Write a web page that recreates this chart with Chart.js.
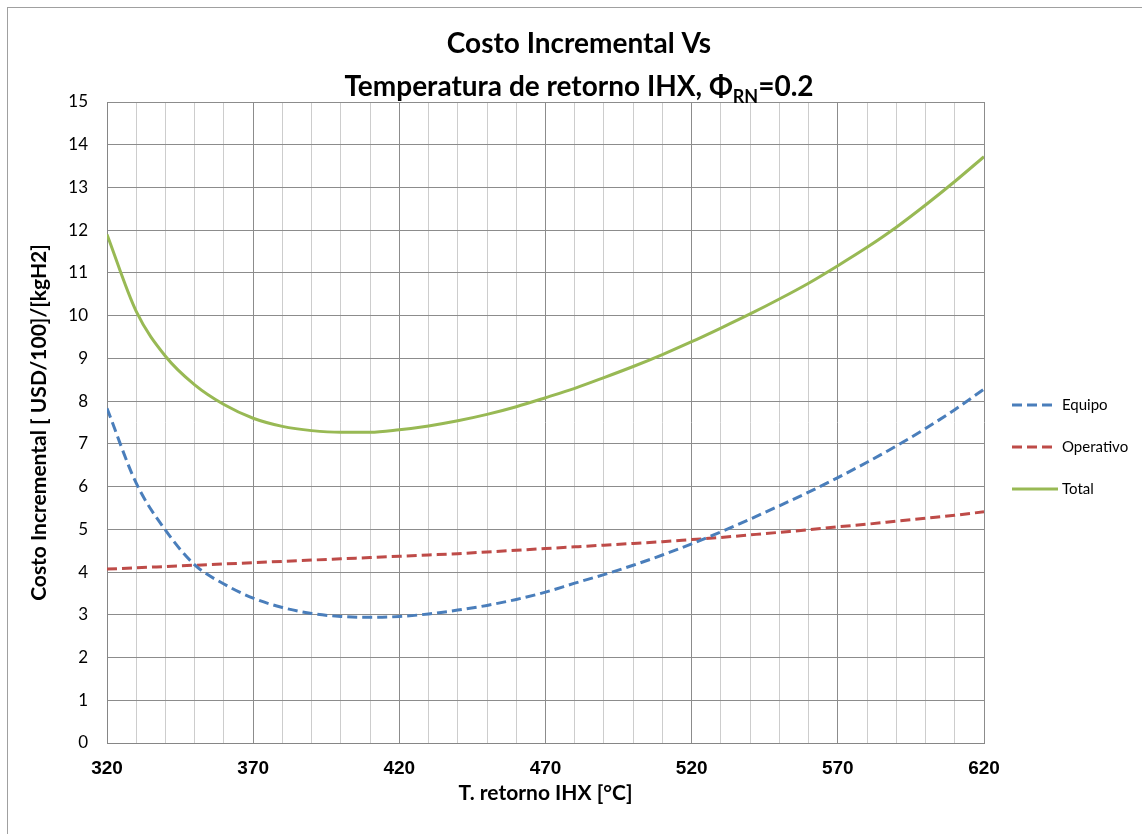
<!DOCTYPE html>
<html>
<head>
<meta charset="utf-8">
<script src="https://cdn.jsdelivr.net/npm/chart.js@4.4.1/dist/chart.umd.min.js"></script>
<style>
html,body{margin:0;padding:0;background:#fff;}
canvas{display:block;}
</style>
</head>
<body>
<canvas id="c" width="1142" height="834"></canvas>
<script>
// ---- data ----
const temps = [320,330,340,350,360,370,380,390,400,410,420,430,440,450,460,470,480,490,500,510,520,530,540,550,560,570,580,590,600,610,620];
const equipo = [7.83,6.08,4.98,4.17,3.72,3.39,3.17,3.03,2.96,2.94,2.96,3.02,3.11,3.22,3.36,3.53,3.74,3.94,4.16,4.40,4.66,4.94,5.24,5.55,5.87,6.21,6.57,6.95,7.36,7.80,8.28];
const operativo = [4.07,4.10,4.13,4.16,4.19,4.22,4.25,4.28,4.31,4.34,4.37,4.40,4.43,4.47,4.51,4.55,4.59,4.63,4.67,4.71,4.76,4.81,4.87,4.93,4.99,5.06,5.12,5.19,5.26,5.33,5.41];
const total = [11.90,10.10,9.05,8.38,7.92,7.60,7.41,7.31,7.27,7.27,7.33,7.42,7.54,7.69,7.87,8.08,8.30,8.55,8.81,9.09,9.39,9.71,10.04,10.39,10.76,11.17,11.60,12.07,12.59,13.14,13.72];
const seriesNames = ['Equipo','Operativo','Total'];
const xTickLabels = [320,370,420,470,520,570,620];
const titleLine1 = 'Costo Incremental Vs';
const titleLine2 = ['Temperatura de retorno IHX, Φ','RN','=0.2'];
const yTitle = 'Costo Incremental [ USD/100]/[kgH2]';
const xTitle = 'T. retorno IHX [°C]';

const toXY = arr => temps.map((t,i)=>({x:t,y:arr[i]}));

const frame = {
  id:'frame',
  beforeDraw(chart){
    const ctx=chart.ctx;
    ctx.save();
    ctx.fillStyle='#fff';
    ctx.fillRect(0,0,chart.width,chart.height);
    ctx.strokeStyle='#a0a0a0';
    ctx.lineWidth=1;
    ctx.strokeRect(7.5,7.5,chart.width+20,chart.height+20);
    ctx.restore();
  }
};

const titlePlugin = {
  id:'titleSub',
  afterDraw(chart){
    const ctx=chart.ctx;
    const cx=579;
    ctx.save();
    ctx.fillStyle='#000';
    ctx.textBaseline='alphabetic';
    const big="bold 28px Lato, 'DejaVu Sans', sans-serif";
    const small="bold 18px Lato, 'DejaVu Sans', sans-serif";
    ctx.font=big;
    ctx.textAlign='center';
    ctx.fillText(titleLine1,cx,53);
    ctx.textAlign='left';
    const w0=ctx.measureText(titleLine2[0]).width;
    const w2=ctx.measureText(titleLine2[2]).width;
    ctx.font=small;
    const w1=ctx.measureText(titleLine2[1]).width;
    let x=cx-(w0+w1+w2)/2;
    ctx.font=big;
    ctx.fillText(titleLine2[0],x,96);
    x+=w0;
    ctx.font=small;
    ctx.fillText(titleLine2[1],x,103);
    x+=w1;
    ctx.font=big;
    ctx.fillText(titleLine2[2],x,96);
    ctx.restore();
  }
};

const legendPlugin = {
  id:'customLegend',
  afterDraw(chart){
    const ctx=chart.ctx;
    const ys=[405,447,489];
    ctx.save();
    chart.data.datasets.forEach((ds,i)=>{
      const y=ys[i];
      ctx.strokeStyle=ds.borderColor;
      ctx.lineWidth=ds.borderWidth;
      ctx.setLineDash(ds.borderDash||[]);
      ctx.lineCap='butt';
      ctx.beginPath();
      ctx.moveTo(1012,y);
      ctx.lineTo(ds.borderDash && ds.borderDash.length?1053:1058,y);
      ctx.stroke();
      ctx.setLineDash([]);
      ctx.fillStyle='#000';
      ctx.font="15px Lato, sans-serif";
      ctx.textBaseline='middle';
      ctx.textAlign='left';
      ctx.fillText(ds.label,1062,y);
    });
    ctx.restore();
  }
};

const dark='#8c8c8c', light='#cdcdcd';

new Chart(document.getElementById('c'),{
  type:'line',
  data:{
    datasets:[
      {label:seriesNames[0],data:toXY(equipo),borderColor:'#4A7EBB',borderWidth:3,borderDash:[10,5],pointRadius:0,cubicInterpolationMode:'monotone',fill:false},
      {label:seriesNames[1],data:toXY(operativo),borderColor:'#BE4B48',borderWidth:3,borderDash:[10,5],pointRadius:0,cubicInterpolationMode:'monotone',fill:false},
      {label:seriesNames[2],data:toXY(total),borderColor:'#98B954',borderWidth:3,pointRadius:0,cubicInterpolationMode:'monotone',fill:false}
    ]
  },
  options:{
    responsive:false,
    animation:false,
    devicePixelRatio:1,
    layout:{padding:{top:102,right:158,bottom:0,left:0}},
    plugins:{legend:{display:false},title:{display:false},tooltip:{enabled:false}},
    scales:{
      x:{
        type:'linear',min:320,max:620,
        afterFit(s){s.height=91;},
        ticks:{stepSize:10,autoSkip:false,maxRotation:0,padding:14,color:'#000',
          font:{family:"'Liberation Sans', Arial, sans-serif",size:19,weight:'bold'},
          callback:v=>xTickLabels.includes(v)?String(v):''},
        grid:{drawTicks:false,color:c=>xTickLabels.includes(c.tick&&c.tick.value)?dark:light,lineWidth:1},
        border:{color:'#868686',width:1},
        title:{display:true,text:xTitle,color:'#000',font:{family:"Lato, sans-serif",size:21,weight:'bold'},padding:{top:0,bottom:28}}
      },
      y:{
        min:0,max:15,
        afterFit(s){s.width=107;},
        ticks:{stepSize:1,padding:19,color:'#000',font:{family:"Lato, sans-serif",size:17}},
        grid:{drawTicks:false,color:dark,lineWidth:1},
        border:{color:'#868686',width:1},
        title:{display:true,text:yTitle,color:'#000',font:{family:"Lato, sans-serif",size:21,weight:'bold'},padding:{top:27,bottom:0}}
      }
    }
  },
  plugins:[frame,titlePlugin,legendPlugin]
});
</script>
</body>
</html>
